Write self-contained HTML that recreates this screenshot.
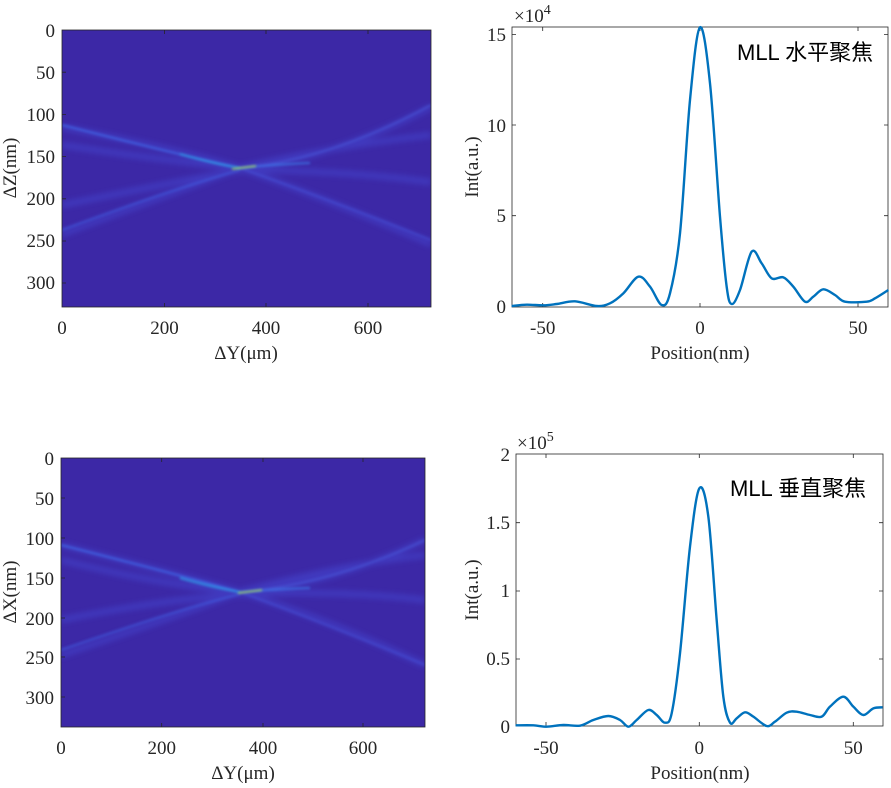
<!DOCTYPE html>
<html><head><meta charset="utf-8"><style>
body{margin:0;background:#fff;width:891px;height:783px;overflow:hidden}
svg text{font-family:"Liberation Serif",serif;font-size:19px;fill:#262626}
.cn{font-family:"Liberation Sans","Noto Sans CJK SC",sans-serif;font-size:22px;fill:#000}
</style></head><body>
<svg width="891" height="783" viewBox="0 0 891 783" xmlns="http://www.w3.org/2000/svg">
<defs>
<filter id="b1" filterUnits="userSpaceOnUse" x="0" y="0" width="891" height="783"><feGaussianBlur stdDeviation="3"/></filter>
<filter id="b2" filterUnits="userSpaceOnUse" x="0" y="0" width="891" height="783"><feGaussianBlur stdDeviation="1.2"/></filter>
<clipPath id="c1"><rect x="62" y="30" width="369" height="277"/></clipPath>
<clipPath id="c2"><rect x="61" y="458" width="364" height="269"/></clipPath>
</defs>

<!-- Heatmap 1 -->
<rect x="62" y="30" width="369" height="277" fill="#3c28a6"/>
<g clip-path="url(#c1)" fill="none">
 <g filter="url(#b1)" stroke="#4650dc" stroke-width="6" opacity="0.45">
  <path d="M62,127 Q180,150 240,168 Q330,160 431,107"/>
  <path d="M62,234 Q180,190 240,168 Q330,200 431,244"/>
  <path d="M62,205 Q160,185 240,170 Q340,170 431,182"/>
  <path d="M62,145 Q160,160 240,168 Q340,145 431,135"/>
 </g>
 <g filter="url(#b2)" stroke-width="2">
  <path d="M62,125 Q180,155 240,168" stroke="#3f68e8" opacity="0.8"/>
  <path d="M180,154 Q215,164 240,168" stroke="#2aa0ea" opacity="0.8"/>
  <path d="M240,168 Q280,164 310,163" stroke="#3a80f0" opacity="0.7"/>
  <path d="M62,230 Q170,190 240,170" stroke="#4060e4" opacity="0.6"/>
  <path d="M240,168 Q330,200 431,240" stroke="#4858e0" opacity="0.5"/>
  <path d="M240,168 Q330,160 431,105" stroke="#4a62e6" opacity="0.5"/>
 </g>
 <path d="M232,169 L256,166" stroke="#a8e050" stroke-width="1.6" filter="url(#b2)"/>
</g>
<rect x="62" y="30" width="369" height="277" fill="none" stroke="#262626" stroke-width="0.8"/>
<g stroke="#262626" stroke-width="0.8">
<path d="M164.5,307v-4M266,307v-4M368,307v-4M62,72.2h4M62,114.4h4M62,156.6h4M62,198.8h4M62,241h4M62,283h4M164.5,30v4M266,30v4M368,30v4"/>
</g>
<g text-anchor="end">
<text x="55" y="37">0</text><text x="55" y="79">50</text><text x="55" y="121">100</text><text x="55" y="163">150</text><text x="55" y="205">200</text><text x="55" y="247">250</text><text x="55" y="289">300</text>
</g>
<g text-anchor="middle">
<text x="62" y="334">0</text><text x="164.5" y="334">200</text><text x="266" y="334">400</text><text x="368" y="334">600</text>
<text x="246" y="359">ΔY(μm)</text>
<text transform="translate(16,168) rotate(-90)">ΔZ(nm)</text>
</g>

<!-- Heatmap 2 -->
<rect x="61" y="458" width="364" height="269" fill="#3c28a6"/>
<g clip-path="url(#c2)" fill="none">
 <g filter="url(#b1)" stroke="#4650dc" stroke-width="6" opacity="0.45">
  <path d="M61,545 Q180,575 240,592 Q330,585 425,540"/>
  <path d="M61,655 Q180,615 240,592 Q330,620 425,665"/>
  <path d="M61,620 Q160,600 240,594 Q340,590 425,600"/>
  <path d="M61,560 Q160,585 240,592 Q340,565 425,555"/>
 </g>
 <g filter="url(#b2)" stroke-width="2">
  <path d="M61,545 Q180,575 240,592" stroke="#3f68e8" opacity="0.8"/>
  <path d="M180,578 Q215,588 240,592" stroke="#2aa0ea" opacity="0.8"/>
  <path d="M240,592 Q280,589 310,588" stroke="#3a80f0" opacity="0.7"/>
  <path d="M61,650 Q170,612 240,594" stroke="#4060e4" opacity="0.6"/>
  <path d="M240,592 Q330,625 425,665" stroke="#4858e0" opacity="0.5"/>
  <path d="M240,592 Q330,585 425,540" stroke="#4a62e6" opacity="0.5"/>
 </g>
 <path d="M238,593 L262,590" stroke="#a8e050" stroke-width="1.6" filter="url(#b2)"/>
</g>
<rect x="61" y="458" width="364" height="269" fill="none" stroke="#262626" stroke-width="0.8"/>
<g stroke="#262626" stroke-width="0.8">
<path d="M161.7,727v-4M263,727v-4M363,727v-4M61,498h4M61,538h4M61,578h4M61,618h4M61,657h4M61,697h4M161.7,458v4M263,458v4M363,458v4"/>
</g>
<g text-anchor="end">
<text x="54" y="465">0</text><text x="54" y="505">50</text><text x="54" y="545">100</text><text x="54" y="585">150</text><text x="54" y="625">200</text><text x="54" y="664">250</text><text x="54" y="704">300</text>
</g>
<g text-anchor="middle">
<text x="61" y="754">0</text><text x="161.7" y="754">200</text><text x="263" y="754">400</text><text x="363" y="754">600</text>
<text x="243" y="779">ΔY(μm)</text>
<text transform="translate(16,592) rotate(-90)">ΔX(nm)</text>
</g>

<!-- Line plot 1 -->
<rect x="512" y="27" width="376" height="280" fill="none" stroke="#262626" stroke-width="0.8"/>
<g stroke="#262626" stroke-width="0.8">
<path d="M542.7,307v-4M700,307v-4M858,307v-4M542.7,27v4M700,27v4M858,27v4M512,215.7h4M512,125h4M512,34.5h4M888,215.7h-4M888,125h-4M888,34.5h-4"/>
</g>
<g text-anchor="end">
<text x="506" y="313">0</text><text x="506" y="222">5</text><text x="506" y="132">10</text><text x="506" y="41">15</text>
</g>
<g text-anchor="middle">
<text x="542.7" y="334">-50</text><text x="700" y="334">0</text><text x="858" y="334">50</text>
<text x="700" y="359">Position(nm)</text>
<text transform="translate(478,167) rotate(-90)">Int(a.u.)</text>
</g>
<text x="514" y="22">×10<tspan dy="-8" font-size="14">4</tspan></text>
<text class="cn" x="737" y="60">MLL 水平聚焦</text>
<path id="p1" fill="none" stroke="#0072bd" stroke-width="2.4" stroke-linejoin="round"/>

<!-- Line plot 2 -->
<rect x="516" y="454" width="367" height="272" fill="none" stroke="#262626" stroke-width="0.8"/>
<g stroke="#262626" stroke-width="0.8">
<path d="M546,726v-4M699.3,726v-4M853.3,726v-4M546,454v4M699.3,454v4M853.3,454v4M516,522.7h4M516,591h4M516,659h4M883,522.7h-4M883,591h-4M883,659h-4"/>
</g>
<g text-anchor="end">
<text x="510" y="733">0</text><text x="510" y="665">0.5</text><text x="510" y="597">1</text><text x="510" y="529">1.5</text><text x="510" y="461">2</text>
</g>
<g text-anchor="middle">
<text x="546" y="754">-50</text><text x="699.3" y="754">0</text><text x="853.3" y="754">50</text>
<text x="700" y="779">Position(nm)</text>
<text transform="translate(478,590) rotate(-90)">Int(a.u.)</text>
</g>
<text x="517" y="449">×10<tspan dy="-8" font-size="14">5</tspan></text>
<text class="cn" x="730" y="496">MLL 垂直聚焦</text>
<path id="p2" fill="none" stroke="#0072bd" stroke-width="2.4" stroke-linejoin="round"/>
</svg>
<script>
function cr(pts,ox,oy){pts=pts.map(p=>[ox+p[0]/3,oy+p[1]/3]);
let d="M"+pts[0][0]+","+pts[0][1];
for(let i=0;i<pts.length-1;i++){const p0=pts[i-1]||pts[i],p1=pts[i],p2=pts[i+1],p3=pts[i+2]||p2;
d+=" C"+(p1[0]+(p2[0]-p0[0])/6)+","+(p1[1]+(p2[1]-p0[1])/6)+" "+(p2[0]-(p3[0]-p1[0])/6)+","+(p2[1]-(p3[1]-p1[1])/6)+" "+p2[0]+","+p2[1];}
return d;}
document.getElementById("p1").setAttribute("d",cr([[185,918],[230,914],[280,916],[320,912],[375,904],[440,918],[480,910],[520,880],[565,830],[600,860],[635,915],[660,880],[690,700],[720,300],[750,82],[780,250],[810,650],[830,860],[845,912],[870,870],[905,755],[935,790],[965,835],[1000,832],[1030,860],[1065,905],[1090,890],[1120,868],[1155,885],[1185,905],[1250,905],[1275,895],[1315,870]],450,0));
document.getElementById("p2").setAttribute("d",cr([[197,916],[250,916],[290,920],[340,915],[390,917],[430,900],[475,888],[510,900],[535,920],[560,900],[595,870],[620,885],[645,908],[665,880],[690,700],[720,380],[748,205],[775,290],[800,600],[820,830],[840,908],[860,895],[885,877],[910,890],[950,918],[975,905],[1010,878],[1040,875],[1080,885],[1115,890],[1140,860],[1180,830],[1210,860],[1240,885],[1270,865],[1298,862]],450,420));
</script>
</body></html>
